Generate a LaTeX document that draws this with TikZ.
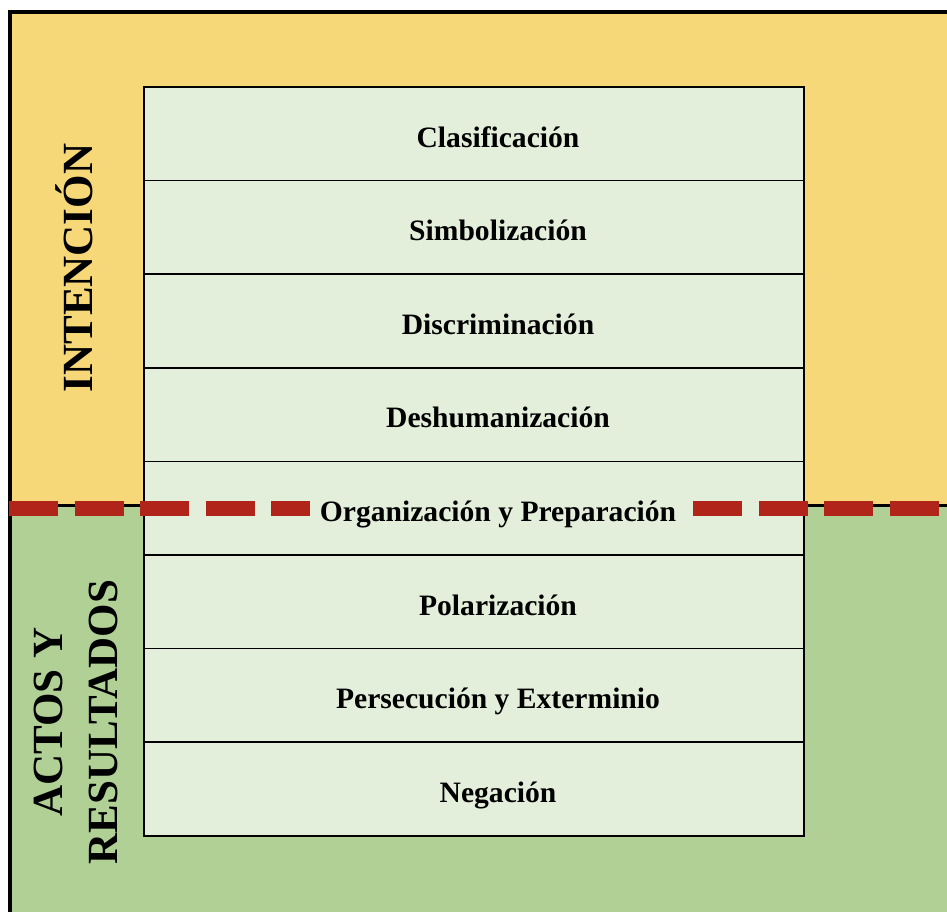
\documentclass[tikz,border=0pt]{standalone}
\usepackage{fontspec}
\setmainfont{Liberation Serif}
\definecolor{bgyellow}{HTML}{F6D879}
\definecolor{bggreen}{HTML}{B0D096}
\definecolor{cellfill}{HTML}{E3EFDA}
\definecolor{dashred}{HTML}{B0241A}
\begin{document}
\begin{tikzpicture}[x=1pt,y=-1pt,
  cellbox/.style={draw=black, line width=1.6pt, fill=cellfill, minimum width=660pt,
    minimum height=93.6pt, inner sep=0pt, outer sep=0pt, anchor=north west},
  celltext/.style={font=\bfseries\fontsize{29.6}{35}\selectfont, inner sep=0pt, anchor=base},
  sidetext/.style={rotate=90, font=\bfseries\fontsize{43}{55}\selectfont, inner sep=0pt, align=center},
  reddash/.style={draw=dashred, line width=15pt, dash pattern=on 49pt off 16.5pt, line cap=butt}
]
\useasboundingbox (0,0) rectangle (947,911);
\clip (0,0) rectangle (947,911);
% backgrounds
\fill[bgyellow] (9.5,12) rectangle (960,505);
\fill[bggreen] (9.5,505) rectangle (960,920);
\draw[line width=3pt] (9.5,505) -- (960,505);
% outer border
\draw[line width=4pt] (9.5,925) -- (9.5,12) -- (960,12);
% cells
\foreach \i in {0,...,7} {
  \node[cellbox] (cell\i) at (144,87+93.6*\i) {};
}
\node[celltext] (t1) at (498,147) {Clasificación};
\node[celltext] (t2) at (498,240.6) {Simbolización};
\node[celltext] (t3) at (498,334.2) {Discriminación};
\node[celltext] (t4) at (498,427.8) {Deshumanización};
\node[celltext] (t5) at (498,521.4) {Organización y Preparación};
\node[celltext] (t6) at (498,615) {Polarización};
\node[celltext] (t7) at (498,708.6) {Persecución y Exterminio};
\node[celltext] (t8) at (498,802.2) {Negación};
% red dashed line
\coordinate (dl1) at (9,508);
\coordinate (dl2) at (310,508);
\coordinate (dr1) at (693,508);
\coordinate (dr2) at (960,508);
\draw[reddash] (dl1) -- (dl2);
\draw[reddash] (dr1) -- (dr2);
% side labels
\node[sidetext, anchor=base] (intencion) at (92,268) {INTENCIÓN};
\node[sidetext, anchor=center] (actos) at (76,722) {ACTOS Y\\RESULTADOS};
\end{tikzpicture}
\end{document}
